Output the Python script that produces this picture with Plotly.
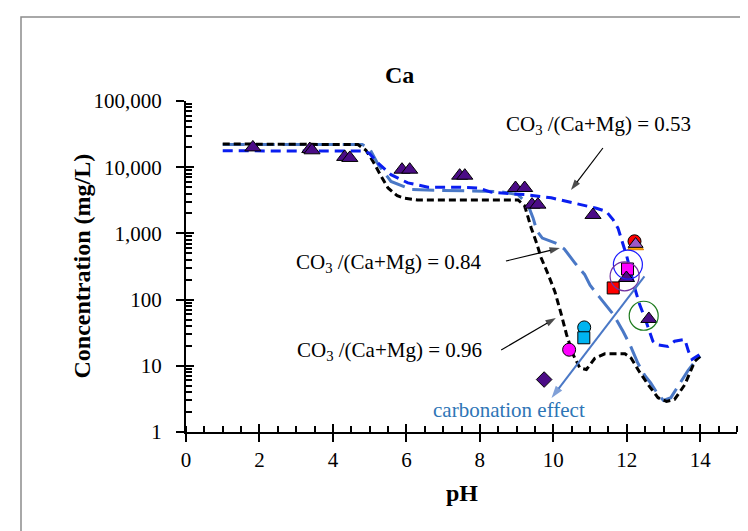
import numpy as np
import plotly.graph_objects as go

# ---------------- data ----------------
# model curves: CO3/(Ca+Mg) ratios
ph_053 = [1.0, 4.87, 5.0, 5.23, 5.58, 6.04, 6.59, 7.31, 7.95, 8.3, 8.5, 9.22, 9.94, 10.67, 10.85,
          11.17, 11.44, 11.63, 11.76, 11.85, 12.0, 12.2, 12.35, 12.49, 12.58, 12.71, 12.8, 13.12,
          13.3, 13.58, 13.68, 13.78, 14.0]
ca_053 = [17700, 17500, 16000, 11500, 7700, 5800, 5000, 5000, 4850, 4200, 4100, 3850, 3450, 2800, 2600,
          2400, 2150, 1600, 1200, 850, 450, 160, 84, 53, 37, 23.5, 21, 19.6,
          23.5, 25, 16.5, 12.5, 15]

ph_084 = [1.0, 4.8, 5.0, 5.23, 5.58, 6.13, 7.0, 8.5, 9.04, 9.31, 9.45, 9.55, 9.7, 9.9, 10.1, 10.3,
          10.6, 10.85, 11.0, 11.25, 11.5, 11.65, 11.9, 12.1, 12.3, 12.5, 12.65, 12.85, 13.0, 13.2,
          13.45, 13.67, 13.85, 14.0]
ca_084 = [22000, 22000, 19000, 11000, 6100, 4600, 4450, 4300, 3850, 2700, 1700, 1100, 850, 780, 700, 580,
          350, 240, 165, 110, 75, 58, 33, 20, 11, 7, 5.5, 3.7, 3.0, 3.3,
          5.5, 8.5, 11.5, 14]

ph_096 = [1.0, 4.68, 4.9, 5.1, 5.3, 5.5, 5.75, 5.95, 6.3, 9.04, 9.22, 9.31, 9.4, 9.55, 9.67, 9.86,
          10.04, 10.22, 10.36, 10.54, 10.72, 10.9, 11.13, 11.4, 11.95, 12.12, 12.35, 12.58, 12.85,
          13.08, 13.3, 13.58, 13.85, 14.0]
ca_096 = [22400, 22000, 18000, 12000, 7500, 4850, 3700, 3400, 3200, 3200, 2600, 1700, 1200, 700, 425, 240,
          133, 59, 29.5, 14.7, 9.3, 8.8, 13, 15.2, 15.2, 13, 8, 5.2, 3.3,
          2.9, 3.1, 5.2, 11.7, 14]

# measured data
tri_ph = [1.82, 3.37, 3.43, 4.32, 4.46, 5.88, 6.09, 7.45, 7.59, 8.97, 9.22, 9.42, 9.58, 11.08, 11.99, 12.6]
tri_ca = [19900, 18800, 18000, 14300, 13800, 9170, 9170, 7450, 7450, 4850, 4850, 2720, 2720, 1900, 212, 51]

red_circle_ph, red_circle_ca = [12.21], [760]
orange_tri_ph, orange_tri_ca = [12.24], [640]
violet_tri_ph, violet_tri_ca = [12.24], [690]
magenta_sq_ph, magenta_sq_ca = [12.02], [290]
red_sq_ph, red_sq_ca = [11.63], [150]
cyan_circle_ph, cyan_circle_ca = [10.84], [38]
cyan_sq_ph, cyan_sq_ca = [10.83], [26.5]
magenta_circle_ph, magenta_circle_ca = [10.43], [17.5]
diamond_ph, diamond_ca = [9.75], [6.2]
ring_blue_ph, ring_blue_ca = [12.03], [338]
ring_purple_ph, ring_purple_ca = [11.94], [225]
ring_green_ph, ring_green_ca = [12.46], [57]

# annotation arrows (tail pH, tail conc, head pH, head conc)
arrow_053 = ([11.35, 10.48], [19500, 4530])
arrow_084 = ([8.71, 10.18], [383, 600])
arrow_096 = ([8.58, 10.07], [17.3, 52.7])
arrow_carb = ([12.48, 9.95], [225, 3.27])

x_ticks = [0, 2, 4, 6, 8, 10, 12, 14]
y_ticks = [1, 10, 100, 1000, 10000, 100000]
y_ticktext = ["1", "10", "100", "1,000", "10,000", "100,000"]
y_minor = [m * 10 ** e for e in range(0, 5) for m in range(2, 10)]

FONT = "Liberation Serif"

fig = go.Figure()

def line(x, y, color, dash):
    fig.add_trace(go.Scatter(x=x, y=y, mode="lines", line=dict(color=color, width=3, dash=dash),
                             showlegend=False, hoverinfo="skip"))

line(ph_084, ca_084, "#4A78C6", "22px,8px")
line(ph_096, ca_096, "#000000", "7px,4px")
line(ph_053, ca_053, "#0A1EF0", "10px,6px")

def pts(x, y, symbol, color, size, lw=1, lc="black"):
    fig.add_trace(go.Scatter(x=x, y=y, mode="markers",
                             marker=dict(symbol=symbol, color=color, size=size,
                                         line=dict(color=lc, width=lw)),
                             showlegend=False, hoverinfo="skip"))

pts(red_circle_ph, red_circle_ca, "circle", "#FF0000", 13)
pts(orange_tri_ph, orange_tri_ca, "triangle-up", "#FFA500", 14, 1, "#E08000")
pts(violet_tri_ph, violet_tri_ca, "triangle-up", "#9B59C8", 13)
pts(red_sq_ph, red_sq_ca, "square", "#FF0000", 12)
pts(magenta_sq_ph, magenta_sq_ca, "square", "#FF00FF", 12)
pts(tri_ph, tri_ca, "triangle-up", "#4B0C86", 14)
pts(cyan_circle_ph, cyan_circle_ca, "circle", "#00B4F0", 13)
pts(cyan_sq_ph, cyan_sq_ca, "square", "#00B4F0", 12)
pts(magenta_circle_ph, magenta_circle_ca, "circle", "#FF00FF", 13)
pts(diamond_ph, diamond_ca, "diamond", "#4B0C86", 12)
pts(ring_blue_ph, ring_blue_ca, "circle-open", "#1A1AFF", 29, 1.2, "#1A1AFF")
pts(ring_purple_ph, ring_purple_ca, "circle-open", "#7030A0", 29, 1.2, "#7030A0")
pts(ring_green_ph, ring_green_ca, "circle-open", "#1E7B1E", 29, 1.2, "#1E7B1E")

def arrow(xy, color, width, head):
    fig.add_trace(go.Scatter(x=xy[0], y=xy[1], mode="lines+markers",
                             line=dict(color=color, width=width),
                             marker=dict(symbol=["circle", "arrow"], size=[0, head], color=color,
                                         angleref="previous", line=dict(width=0)),
                             showlegend=False, hoverinfo="skip"))

arrow(arrow_053, "black", 1.2, 11)
arrow(arrow_084, "black", 1.2, 11)
arrow(arrow_096, "black", 1.2, 11)
arrow(arrow_carb, "#4A78C6", 2, 13)

# dummy trace for overlay axes (crossing ticks)
fig.add_trace(go.Scatter(x=[None], y=[None], xaxis="x2", yaxis="y2", showlegend=False, hoverinfo="skip"))

W, H = 748, 531
ml, mr, mt, mb = 178, 19, 93, 107
pw, ph = W - ml - mr, H - mt - mb

L = np.log10
annotations = []
sub = "CO<sub>3</sub> /(Ca+Mg) = "
for txt, xx, yy in [(sub + "0.53", 11.24, 43400), (sub + "0.84", 5.53, 357), (sub + "0.96", 5.53, 16.7)]:
    annotations.append(dict(x=xx, y=L(yy), xref="x", yref="y", text=txt, showarrow=False,
                            font=dict(family=FONT, size=21, color="black")))
annotations.append(dict(x=8.79, y=L(2.15), xref="x", yref="y", text="carbonation effect", showarrow=False,
                        font=dict(family=FONT, size=21, color="#2E75B6")))
annotations.append(dict(x=(391 - ml) / pw, y=(H - mb - 52) / ph, xref="paper", yref="paper",
                        text="<b>Ca</b>", showarrow=False, font=dict(family=FONT, size=24, color="black")))
annotations.append(dict(x=(58 - ml) / pw, y=0.5, xref="paper", yref="paper", text="<b>Concentration (mg/L)</b>",
                        textangle=-90, showarrow=False, font=dict(family=FONT, size=24, color="black")))
annotations.append(dict(x=0.5, y=(H - mb - 500) / ph, xref="paper", yref="paper", text="<b>pH</b>",
                        showarrow=False, font=dict(family=FONT, size=24, color="black")))

fig.update_layout(
    width=W, height=H,
    margin=dict(l=ml, r=mr, t=mt, b=mb),
    paper_bgcolor="white", plot_bgcolor="white",
    showlegend=False,
    font=dict(family=FONT, size=21, color="black"),
    xaxis=dict(range=[0, 15], tickmode="array", tickvals=x_ticks, ticks="outside", ticklen=8,
               tickwidth=2, tickcolor="black", showline=True, linecolor="black", linewidth=2,
               showgrid=False, zeroline=False, tickfont=dict(family=FONT, size=21),
               minor=dict(ticks="inside", ticklen=6, tickwidth=1.5, tickcolor="black",
                          tickmode="linear", tick0=0, dtick=0.5)),
    yaxis=dict(type="log", range=[0, 5], tickmode="array", tickvals=y_ticks, ticktext=y_ticktext,
               ticks="outside", ticklen=8, tickwidth=2, tickcolor="black", showline=True,
               linecolor="black", linewidth=2, showgrid=False, zeroline=False,
               tickfont=dict(family=FONT, size=21), ticklabelstandoff=10,
               minor=dict(ticks="inside", ticklen=6, tickwidth=1.5, tickcolor="black",
                          tickmode="array", tickvals=y_minor)),
    xaxis2=dict(range=[0, 15], overlaying="x", anchor="y", side="bottom", tickmode="array",
                tickvals=x_ticks, ticks="inside", ticklen=8, tickwidth=2, tickcolor="black",
                showticklabels=False, showline=False, showgrid=False, zeroline=False),
    yaxis2=dict(type="log", range=[0, 5], overlaying="y", anchor="x", side="left", tickmode="array",
                tickvals=y_ticks, ticks="inside", ticklen=8, tickwidth=2, tickcolor="black",
                showticklabels=False, showline=False, showgrid=False, zeroline=False),
    annotations=annotations,
    shapes=[dict(type="rect", xref="paper", yref="paper",
                 x0=(13 - ml) / pw, x1=1.5, y0=-1.0, y1=(H - mb - 9) / ph,
                 line=dict(color="#8C8C8C", width=1.5), fillcolor="rgba(0,0,0,0)", layer="below")],
)

fig.write_html("out.html")
